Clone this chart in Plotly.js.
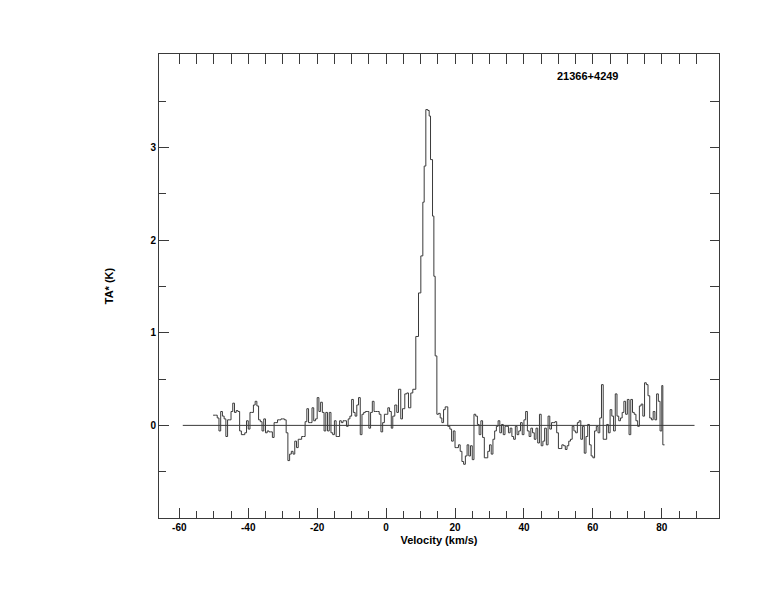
<!DOCTYPE html>
<html>
<head>
<meta charset="utf-8">
<script src="https://cdn.plot.ly/plotly-3.0.1.min.js"></script>
<style>html,body{margin:0;padding:0;background:#fff;}#chart{width:774px;height:612px;}</style>
</head>
<body>
<div id="chart"></div>
<script>
// Channel start velocities (km/s) of the spectrum steps
const velocity = [
 -50.2,-49.5,-49,-48.5,-48,-47.5,-47,-46.5,-46,-45.5,-45,-44.5,-44,-43.5,-43,-42.5,-42,-41.5,-41,-40.5,
 -40,-39.5,-39,-38.5,-38,-37.5,-37,-36.5,-36,-35.5,-35,-34.5,-34,-33.5,-33,-32.5,-32,-31.5,-31,-30.5,
 -30,-29.5,-29,-28.5,-28,-27.5,-27,-26.5,-26,-25.5,-25,-24.5,-24,-23.5,-23,-22.5,-22,-21.5,-21,-20.5,
 -20,-19.5,-19,-18.5,-18,-17.5,-17,-16.5,-16,-15.5,-15,-14.5,-14,-13.5,-13,-12.5,-12,-11.5,-11,-10.5,
 -10,-9.5,-9,-8.5,-8,-7.5,-7,-6.5,-6,-5.5,-5,-4.5,-4,-3.5,-3,-2.5,-2,-1.5,-1,-0.5,
 0,0.5,1.0,1.5,1.94,2.52,3.1,3.59,4.26,4.75,5.43,6.01,6.49,7.17,7.75,8.62,9.4,10.08,10.66,11.05,
 11.53,12.11,12.5,12.89,13.47,13.86,14.24,14.73,15.21,15.7,16.18,16.67,17.15,17.9,18.5,19,19.5,20,20.5,21,
 21.5,22,22.5,23,23.5,24,24.5,25,25.5,26,26.5,27,27.5,28,28.5,29,29.5,30,30.5,31,
 31.5,32,32.5,33,33.5,34,34.5,35,35.5,36,36.5,37,37.5,38,38.5,39,39.5,40,40.5,41,
 41.5,42,42.5,43,43.5,44,44.5,45,45.5,46,46.5,47,47.5,48,48.5,49,49.5,50,50.5,51,
 51.5,52,52.5,53,53.5,54,54.5,55,55.5,56,56.5,57,57.5,58,58.5,59,59.5,60,60.5,61,
 61.5,62,62.5,63,63.5,64,64.5,65,65.5,66,66.5,67,67.5,68,68.5,69,69.5,70,70.5,71,
 71.5,72,72.5,73,73.5,74,74.5,75,75.5,76,76.5,77,77.5,78,78.5,79,79.5,80,80.3,80.8
];
// Antenna temperature TA* (K) of each step
const antennaTemp = [
 0.11,0.11,0.08,-0.06,0.15,0.10,0.07,-0.12,0.06,0.06,0.15,0.24,0.14,0.16,0.15,-0.06,-0.10,-0.10,-0.08,0.05,
 -0.04,0.14,0.14,0.22,0.26,0.21,0.06,0.04,-0.06,0.07,-0.08,-0.06,-0.07,-0.07,-0.13,0.03,0.03,0.06,0.06,0.07,
 0.07,0.06,-0.08,-0.38,-0.31,-0.28,-0.31,-0.17,-0.24,-0.15,-0.15,-0.12,-0.12,0.04,0.18,0.03,0.03,0.19,0.05,0.07,
 0.30,0.15,0.25,0.14,-0.06,0.14,-0.06,0.14,-0.08,-0.10,0.05,-0.12,-0.12,0.05,0.03,0.05,0.05,-0.01,0.07,0.10,
 0.28,0.14,0.10,0.22,0.30,-0.10,0.12,0.14,0.15,0.15,-0.03,0.14,0.26,0.15,0.15,0.15,0.12,-0.07,0.03,0.12,
 0.12,0.19,0.15,-0.03,0.10,0.22,0.14,0.39,0.07,0.18,0.34,0.35,0.19,0.35,0.39,0.96,1.43,1.83,2.41,2.80,
 3.41,3.40,3.34,2.87,2.26,1.61,0.75,0.12,0.13,0.08,0.03,0.17,0.20,-0.01,-0.04,-0.17,-0.06,-0.24,-0.24,-0.21,
 -0.28,-0.39,-0.42,-0.33,-0.21,-0.33,-0.22,-0.37,0.12,0.10,0.01,-0.10,0.05,-0.13,-0.35,-0.35,-0.28,-0.21,-0.31,-0.15,
 -0.06,-0.01,0.05,-0.08,0.01,-0.10,-0.01,-0.01,-0.08,-0.03,-0.12,-0.15,-0.01,-0.10,-0.06,0.03,-0.10,0.06,0.15,-0.06,
 -0.12,-0.03,-0.08,-0.15,-0.03,-0.19,0.12,-0.22,-0.17,-0.03,-0.21,0.10,-0.04,0.03,0.03,0.04,-0.08,-0.25,-0.25,-0.21,
 -0.22,-0.26,-0.22,-0.17,-0.15,-0.01,-0.06,-0.08,0.03,0.05,-0.15,-0.01,-0.30,-0.12,0.01,-0.21,-0.33,-0.35,-0.06,-0.01,
 -0.08,0.08,0.44,-0.15,-0.15,0.01,-0.08,0.17,0.10,-0.06,0.34,0.10,0.05,0.08,0.14,0.26,0.12,0.28,-0.10,0.28,
 0.14,0.12,0.05,-0.01,0.21,0.23,0.10,0.46,0.44,0.32,0.08,0.06,0.15,0.06,0.34,0.26,-0.06,0.43,-0.21,-0.21
];
// Zero baseline drawn across the spectrum
const baselineVel = [-59, 89.5];
const baselineTemp = [0, 0];

const xMajorTicks = [-60, -40, -20, 0, 20, 40, 60, 80];
const xMinorTicks = [-55,-50,-45,-35,-30,-25,-15,-10,-5,5,10,15,25,30,35,45,50,55,65,70,75,85,90];
const xTopTicks = [-60,-55,-50,-45,-40,-35,-30,-25,-20,-15,-10,-5,0,5,10,15,20,25,30,35,40,45,50,55,60,65,70,75,80,85,90];
const yMajorTicks = [0, 1, 2, 3];
const yMinorTicks = [-0.5, 0.5, 1.5, 2.5, 3.5];
const yRightTicks = [-0.5, 0, 0.5, 1, 1.5, 2, 2.5, 3, 3.5];
const sourceName = '21366+4249';

const lineColor = '#3a3a3a';
const font = {family: 'Liberation Sans, Arial, Helvetica, sans-serif', size: 10, color: '#000', weight: 'bold'};

const traces = [
  {x: baselineVel, y: baselineTemp, mode: 'lines', line: {color: lineColor, width: 1}, hoverinfo: 'skip'},
  {x: velocity, y: antennaTemp, mode: 'lines', line: {shape: 'hv', color: lineColor, width: 1}},
  {x: [0], y: [0], xaxis: 'x2', yaxis: 'y2', mode: 'markers', marker: {opacity: 0}, hoverinfo: 'skip'}
];

const xr = [-65.9, 96.6], yr = [-1.0, 4.01];
const layout = {
  width: 774, height: 612,
  margin: {l: 159, r: 55, t: 54, b: 94},
  paper_bgcolor: '#fff', plot_bgcolor: '#fff',
  showlegend: false,
  font: font,
  xaxis: {
    range: xr, showgrid: false, zeroline: false,
    showline: true, linecolor: lineColor, linewidth: 1, mirror: true,
    tickmode: 'array', tickvals: xMajorTicks, ticktext: xMajorTicks.map(String),
    ticks: 'inside', ticklen: 10, tickcolor: lineColor, tickwidth: 1,
    minor: {tickmode: 'array', tickvals: xMinorTicks, ticks: 'inside', ticklen: 7, tickcolor: lineColor, tickwidth: 1},
    tickfont: font,
    title: {text: 'Velocity (km/s)', font: {...font, size: 11}, standoff: 4}
  },
  xaxis2: {
    range: xr, overlaying: 'x', side: 'top', showgrid: false, zeroline: false,
    showline: false, showticklabels: false,
    tickmode: 'array', tickvals: xTopTicks,
    ticks: 'inside', ticklen: 10, tickcolor: lineColor, tickwidth: 1
  },
  yaxis: {
    range: yr, showgrid: false, zeroline: false,
    showline: true, linecolor: lineColor, linewidth: 1, mirror: true,
    tickmode: 'array', tickvals: yMajorTicks, ticktext: yMajorTicks.map(String),
    ticks: 'inside', ticklen: 10, tickcolor: lineColor, tickwidth: 1,
    minor: {tickmode: 'array', tickvals: yMinorTicks, ticks: 'inside', ticklen: 7, tickcolor: lineColor, tickwidth: 1},
    tickfont: font,
    title: {text: 'TA* (K)', font: {...font, size: 11}, standoff: 34}
  },
  yaxis2: {
    range: yr, overlaying: 'y', side: 'right', showgrid: false, zeroline: false,
    showline: false, showticklabels: false,
    tickmode: 'array', tickvals: yRightTicks,
    ticks: 'inside', ticklen: 9, tickcolor: lineColor, tickwidth: 1
  },
  annotations: [{
    text: sourceName, xref: 'paper', yref: 'paper', x: 0.707, y: 0.953,
    xanchor: 'left', yanchor: 'middle', showarrow: false, font: {...font, size: 11}
  }]
};

Plotly.newPlot('chart', traces, layout, {staticPlot: true, displayModeBar: false});
</script>
</body>
</html>
